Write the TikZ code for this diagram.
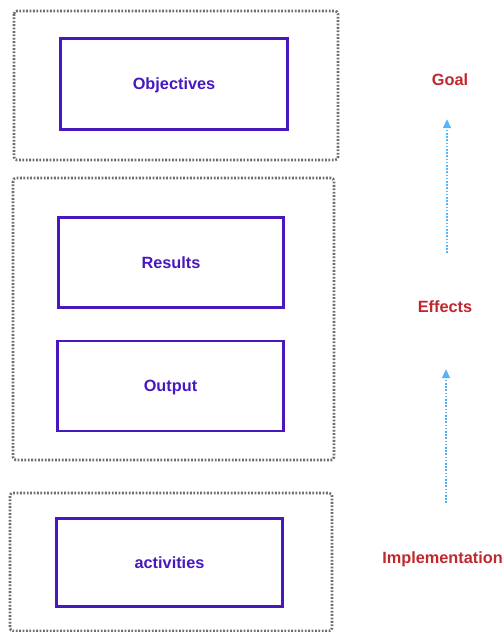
\documentclass[tikz,border=0pt]{standalone}
\usepackage{fontspec}
\setmainfont{Liberation Sans}
\usetikzlibrary{arrows.meta}
\definecolor{boxpurple}{RGB}{72,24,190}
\definecolor{labred}{RGB}{192,40,45}
\definecolor{arrowblue}{RGB}{85,180,250}
\definecolor{framegray}{RGB}{110,110,110}
\tikzset{
  frame/.style={draw=framegray, line width=2.6pt, dash pattern=on 1.8pt off 1.6pt, rounded corners=3pt},
  innerbox/.style={draw=boxpurple, line width=2.8pt, inner sep=0pt},
  boxtext/.style={text=boxpurple, font=\fontsize{16.3}{19}\selectfont\bfseries},
  levellabel/.style={text=labred, font=\fontsize{16.3}{19}\selectfont\bfseries, inner sep=0pt},
  uparrow/.style={draw=arrowblue, line width=2.6pt, dash pattern=on 1.6pt off 1.6pt, -{Triangle[length=9pt,width=7.5pt]}}
}
\begin{document}
\begin{tikzpicture}[x=1pt,y=-1pt]
\useasboundingbox (0,0) rectangle (503,632);
% frames
\draw[frame] (14,11) rectangle (338,160);
\draw[frame] (13,178) rectangle (334,460);
\draw[frame] (10,493) rectangle (332,631);
% inner boxes
\node[innerbox, minimum width=227pt, minimum height=91pt] (obj) at (174,84) {};
\node[innerbox, minimum width=225pt, minimum height=90pt] (res) at (171,262.5) {};
\node[innerbox, minimum width=226pt, minimum height=90pt] (out) at (170.5,386) {};
\node[innerbox, minimum width=226pt, minimum height=88pt] (act) at (169.5,562.5) {};
\node[boxtext] (objt) at (obj.center) [yshift=-1.5pt] {Objectives};
\node[boxtext] (rest) at (res.center) {Results};
\node[boxtext] (outt) at (out.center) [yshift=-1.5pt] {Output};
\node[boxtext] (actt) at (act.center) {activities};
% labels
\node[levellabel] (goal) at (450,80) {Goal};
\node[levellabel] (eff) at (445,307) {Effects};
\node[levellabel, anchor=east] (imp) at (503,559) {Implementation};
% arrows
\coordinate (a1s) at (447,253);
\coordinate (a1e) at (447,119);
\coordinate (a2s) at (446,503);
\coordinate (a2e) at (446,369);
\draw[uparrow] (a1s) -- (a1e);
\draw[uparrow] (a2s) -- (a2e);
\end{tikzpicture}
\end{document}
